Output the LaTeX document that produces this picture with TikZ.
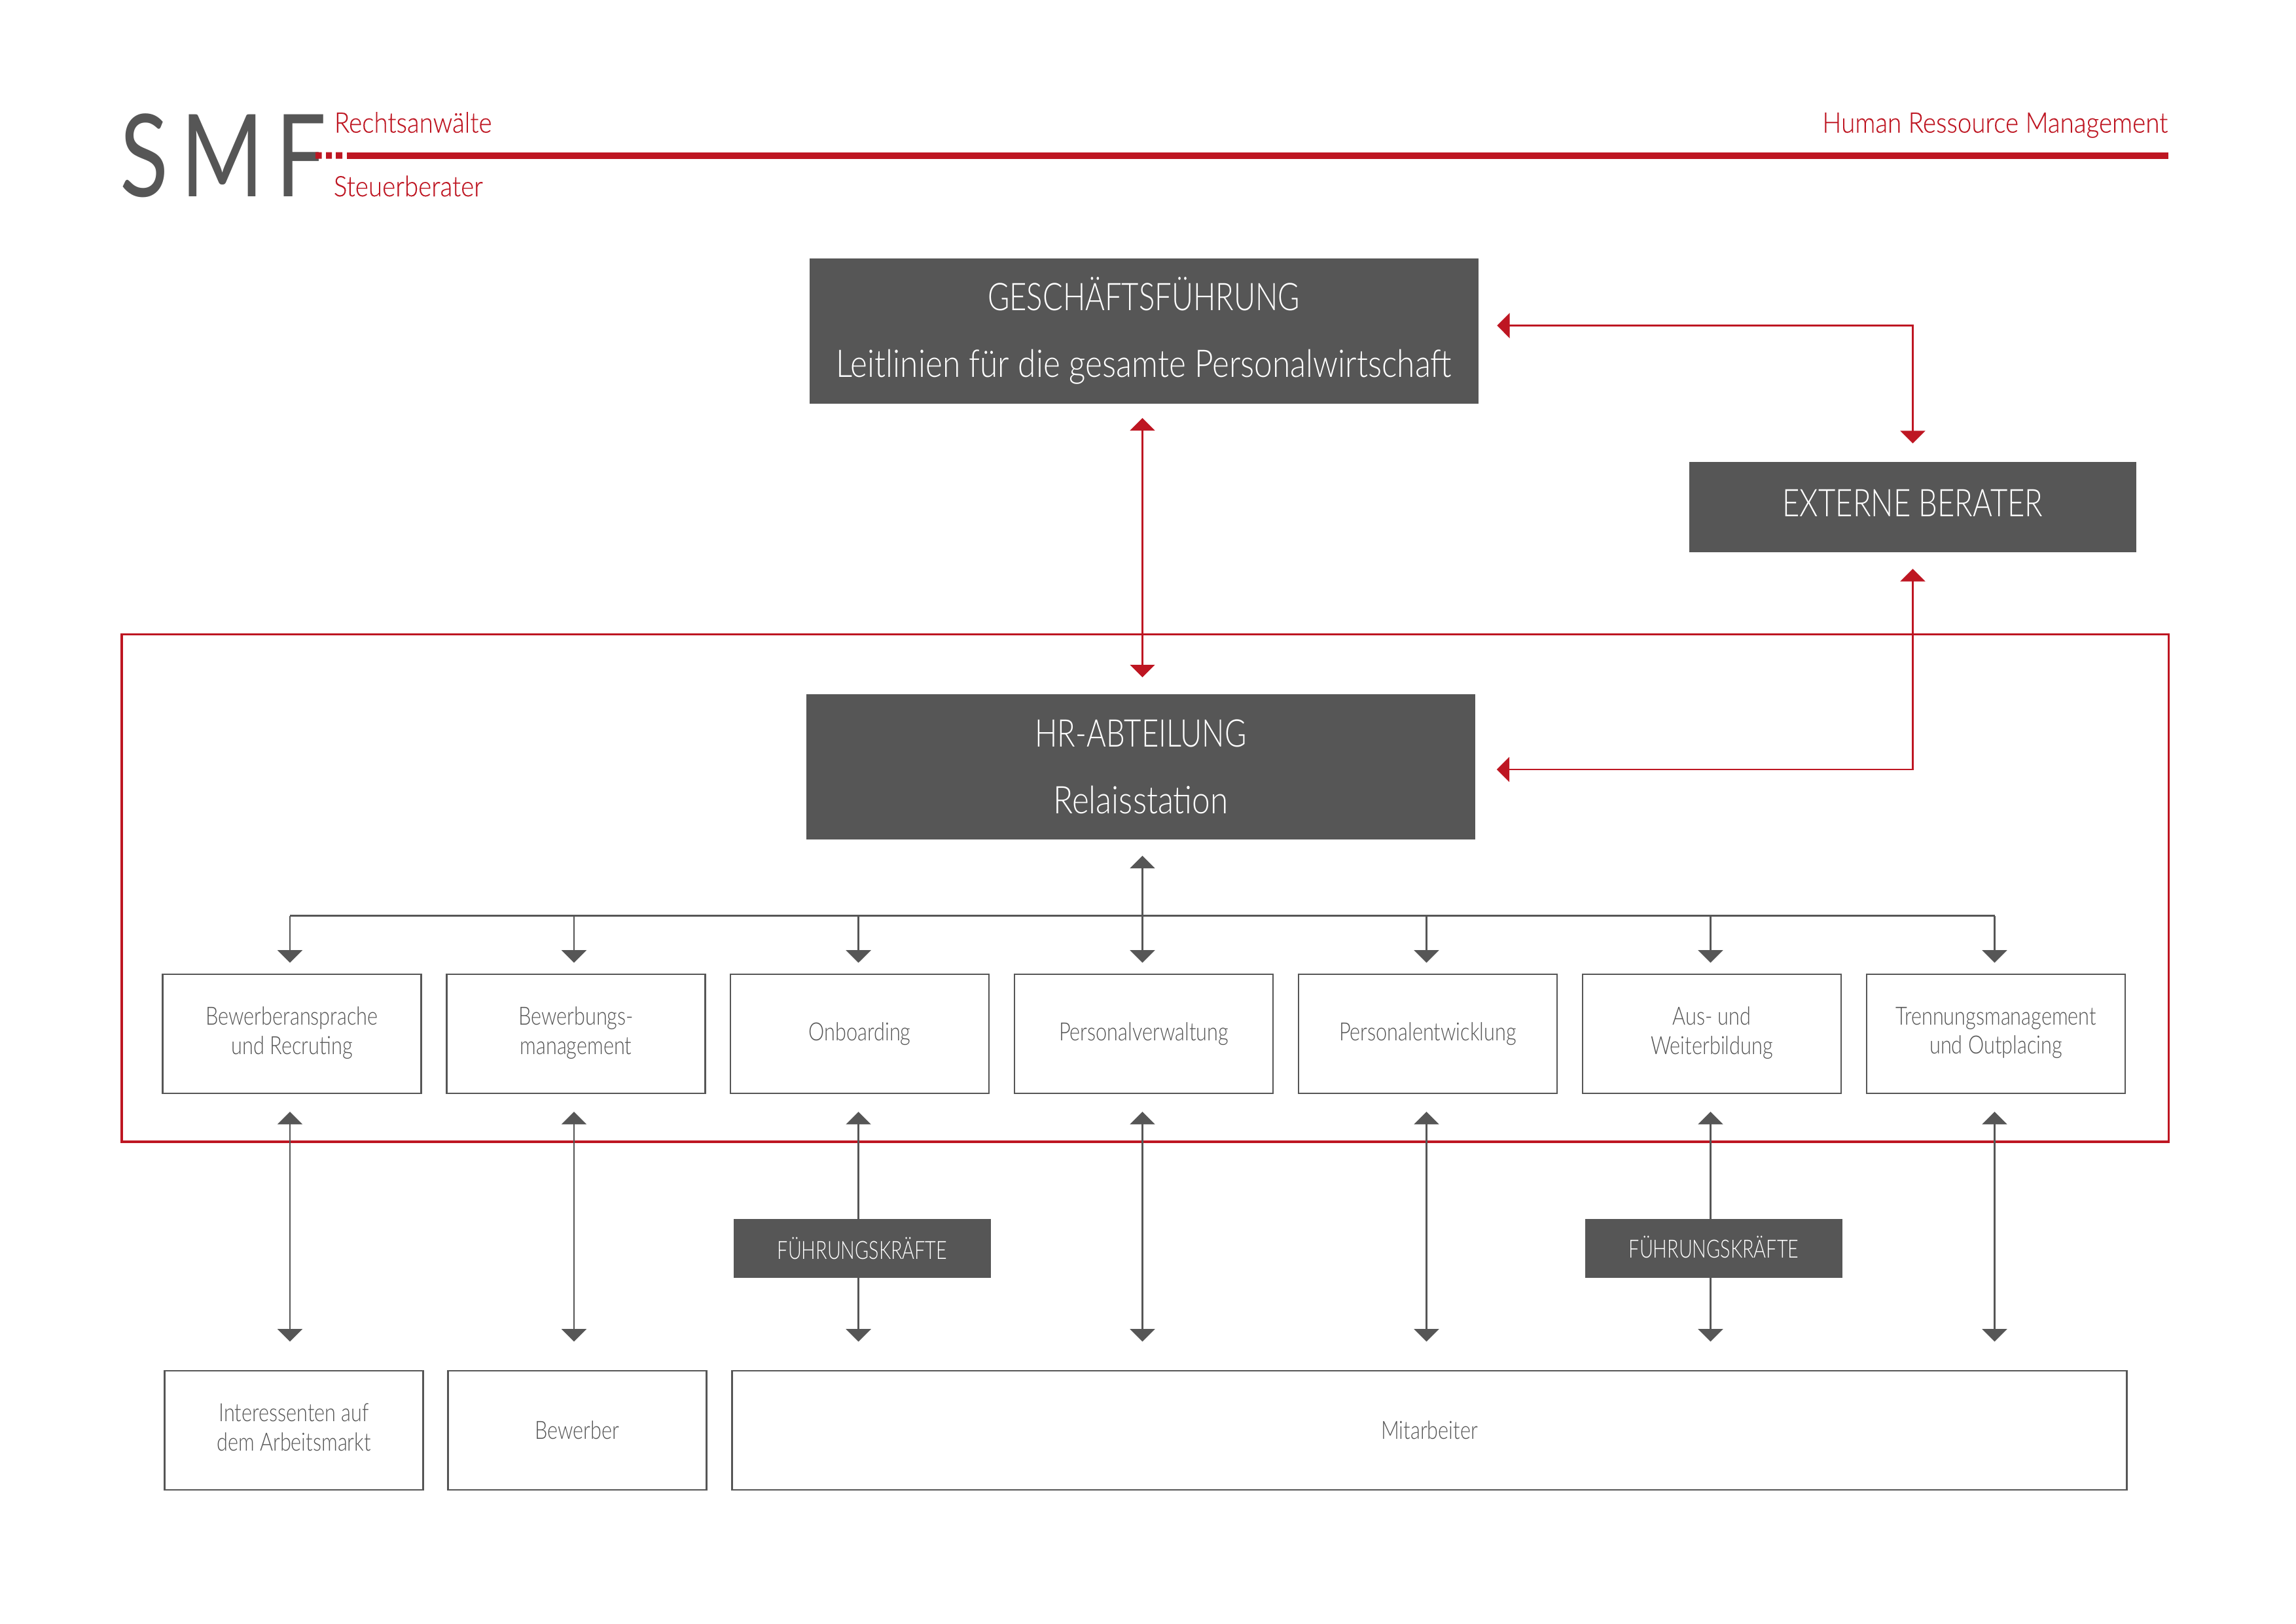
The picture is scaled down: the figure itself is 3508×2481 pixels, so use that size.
\documentclass[tikz,border=0pt]{standalone}
\usepackage{fontspec}
\usepackage{tikz}
\usetikzlibrary{arrows.meta}
\setmainfont[FakeStretch=0.8]{Lato Light}
\newfontfamily\logofont[FakeStretch=0.78,LetterSpace=10.5]{Lato}
\newfontfamily\redfont[FakeStretch=0.89,FakeBold=0.2]{Lato Light}
\newfontfamily\capfont[FakeStretch=0.78]{Lato Light}
\newfontfamily\wordfont[FakeStretch=0.85]{Lato Light}
\newfontfamily\tagfont[FakeStretch=0.75]{Lato Light}
\definecolor{smfgrey}{HTML}{565656}
\definecolor{smfred}{HTML}{BE1622}
\newcommand{\ux}{0.24pt}
\tikzset{
	headbox/.style={fill=smfgrey,text=white,inner sep=0pt,align=center,font=\fontsize{14}{24.5}\selectfont},
	unitbox/.style={draw=smfgrey,line width=0.55pt,fill=white,text=smfgrey,inner sep=0pt,align=center,minimum height=182*\ux,font=\fontsize{9.2}{10.7}\selectfont},
	twolines/.style={text depth=2.4pt},
	tagbox/.style={fill=smfgrey,text=white,inner sep=0pt,minimum width=393*\ux,minimum height=90*\ux,font=\tagfont\fontsize{9.2}{11}\selectfont},
	redtitle/.style={text=smfred,inner sep=0pt,font=\redfont\fontsize{10.4}{12}\selectfont},
	greylink/.style={draw=smfgrey,line width=0.55pt},
	redlink/.style={draw=smfred,line width=0.55pt},
	twoway/.style={{Triangle[width=9.1pt,length=4.6pt]}-{Triangle[width=9.1pt,length=4.6pt]}},
	oneway/.style={-{Triangle[width=9.1pt,length=4.6pt]}}
}

\begin{document}
\begin{tikzpicture}[x=0.24pt,y=-0.24pt]
	\useasboundingbox (0,0) rectangle (3508,2481);

	% logo and header
	\node[anchor=base west,inner sep=0pt,text=smfgrey,font=\logofont\fontsize{42}{42}\selectfont] (logo) at (183,300.7) {SMF\hspace{-5pt}};
	\fill[smfred] (482,232.5) rectangle (491.5,242.5) (498,232.5) rectangle (507,242.5) (513,232.5) rectangle (523,242.5);
	\fill[smfred] (530,232.5) rectangle (3313,242.5);
	\node[redtitle,anchor=base west] (firm1) at (510,202.7) {Rechtsanwälte};
	\node[redtitle,anchor=base west] (firm2) at (509,300) {Steuerberater};
	\node[redtitle,anchor=base east] (title) at (3313,202.7) {Human Ressource Management};

	\draw[smfred,line width=0.85pt] (186,969.5) rectangle (3313.5,1745);

	\node[headbox,minimum width=1022*\ux,minimum height=222*\ux] (gf) at (1747.5,505.5) {{\capfont GESCHÄFTSFÜHRUNG}\\{\wordfont Leitlinien für die gesamte Personalwirtschaft}};
	\node[headbox,minimum width=1022*\ux,minimum height=222*\ux] (hr) at (1743,1172) {{\capfont HR-ABTEILUNG}\\{\wordfont Relaisstation}};
	\node[headbox,minimum width=683*\ux,minimum height=138*\ux,text depth=3pt] (ext) at (2922.5,775) {\capfont EXTERNE BERATER};

	% arrow axes
	\coordinate (a1) at (443,1399.5);
	\coordinate (a2) at (877,1399.5);
	\coordinate (a3) at (1311.6,1399.5);
	\coordinate (a4) at (1745.5,1399.5);
	\coordinate (a5) at (2179.5,1399.5);
	\coordinate (a6) at (2613.5,1399.5);
	\coordinate (a7) at (3047.5,1399.5);

	\node[unitbox,twolines,minimum width=395*\ux] (b1) at (446,1580) {Bewerberansprache\\und Recruting};
	\node[unitbox,twolines,minimum width=395*\ux] (b2) at (880,1580) {Bewerbungs-\\management};
	\node[unitbox,minimum width=395*\ux] (b3) at (1313.5,1580) {Onboarding};
	\node[unitbox,minimum width=395*\ux] (b4) at (1747.5,1580) {Personalverwaltung};
	\node[unitbox,minimum width=395*\ux] (b5) at (2181.5,1580) {Personalentwicklung};
	\node[unitbox,twolines,minimum width=395*\ux] (b6) at (2615.5,1580) {Aus- und\\Weiterbildung};
	\node[unitbox,twolines,minimum width=395*\ux] (b7) at (3049.5,1580) {Trennungsmanagement\\und Outplacing};

	\node[unitbox,twolines,minimum width=395*\ux] (market) at (449,2186) {Interessenten auf\\dem Arbeitsmarkt};
	\node[unitbox,minimum width=395*\ux] (applicant) at (882,2186) {Bewerber};
	\node[unitbox,minimum width=2131*\ux] (staff) at (2184,2186) {Mitarbeiter};

	% red links
	\draw[redlink,twoway,shorten <=21.6*\ux,shorten >=25*\ux] (a4 |- gf.south) -- (a4 |- hr.north);
	\coordinate (gfport) at (gf.east |- 0,497.6);
	\coordinate (hrport) at (hr.east |- 0,1176);
	\draw[redlink,twoway,shorten <=28*\ux,shorten >=27.6*\ux] (gfport) -| (ext.north);
	\draw[redlink,twoway,shorten <=32*\ux,shorten >=24.5*\ux] (hrport) -| (ext.south);

	% grey links
	\draw[greylink] (a1) -- (a7);
	\draw[greylink,twoway,shorten <=24*\ux,shorten >=16.5*\ux] (a4 |- hr.south) -- (a4 |- b4.north);
	\foreach \i in {1,2,3,5,6,7}
		\draw[greylink,oneway,shorten >=16.5*\ux] (a\i) -- (a\i |- b\i.north);
	\draw[greylink,twoway,shorten <=27*\ux,shorten >=43.5*\ux] (a1 |- b1.south) -- (a1 |- market.north);
	\draw[greylink,twoway,shorten <=27*\ux,shorten >=43.5*\ux] (a2 |- b2.south) -- (a2 |- applicant.north);
	\foreach \i in {3,...,7}
		\draw[greylink,twoway,shorten <=27*\ux,shorten >=43.5*\ux] (a\i |- b\i.south) -- (a\i |- staff.north);

	\node[tagbox] (lead1) at (1317.5,1908) {FÜHRUNGSKRÄFTE};
	\node[tagbox,text depth=1pt] (lead2) at (2618.5,1908) {FÜHRUNGSKRÄFTE};
\end{tikzpicture}
\end{document}
